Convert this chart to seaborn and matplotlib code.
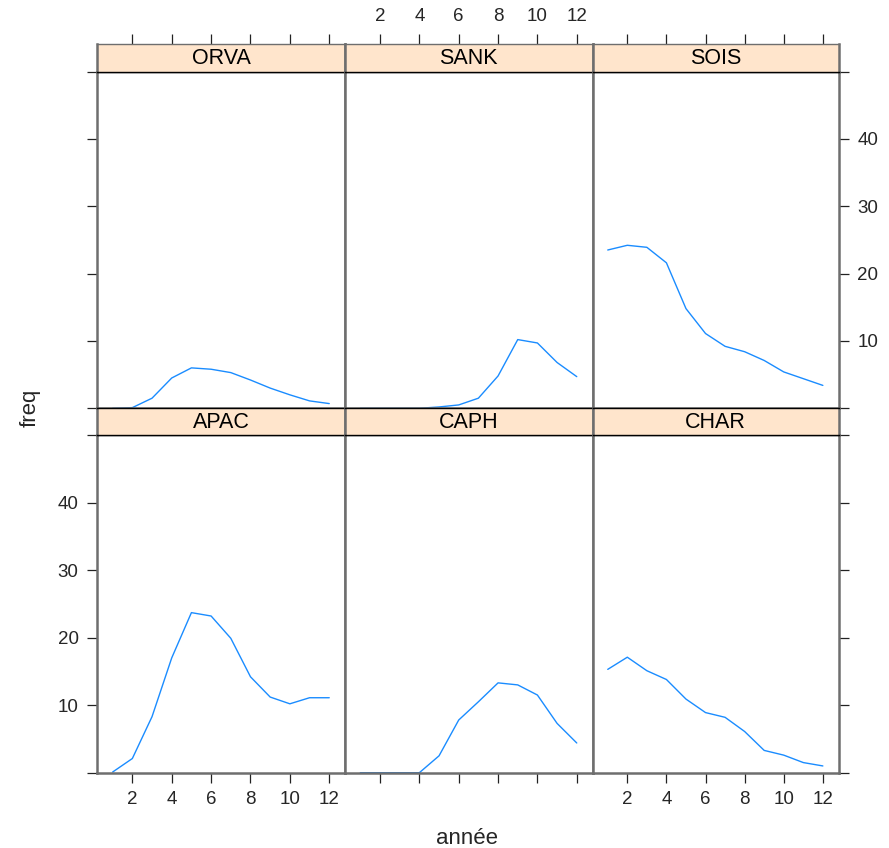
import numpy as np
import pandas as pd
import matplotlib
matplotlib.use("Agg")
import matplotlib.pyplot as plt
import seaborn as sns

sns.set_style("white")
plt.rcParams['font.family'] = ['Liberation Sans', 'DejaVu Sans']

annee = list(range(1, 13))
ORVA = [0, 0.1, 1.5, 4.5, 6.0, 5.8, 5.3, 4.2, 3.0, 2.0, 1.1, 0.7]
SANK = [0, 0, 0, 0, 0.2, 0.5, 1.5, 4.8, 10.2, 9.7, 6.8, 4.7]
SOIS = [23.5, 24.2, 23.9, 21.6, 14.8, 11.1, 9.2, 8.4, 7.1, 5.4, 4.4, 3.4]
APAC = [0.1, 2.1, 8.3, 17.0, 23.7, 23.2, 19.9, 14.2, 11.2, 10.2, 11.1, 11.1]
CAPH = [0, 0, 0, 0, 2.5, 7.8, 10.5, 13.3, 13.0, 11.5, 7.3, 4.4]
CHAR = [15.3, 17.1, 15.1, 13.8, 10.9, 8.9, 8.2, 6.1, 3.3, 2.6, 1.5, 1.0]

series = {"ORVA": ORVA, "SANK": SANK, "SOIS": SOIS,
          "APAC": APAC, "CAPH": CAPH, "CHAR": CHAR}
layout = [["ORVA", "SANK", "SOIS"], ["APAC", "CAPH", "CHAR"]]

xticks = [2, 4, 6, 8, 10, 12]
yticks = [0, 10, 20, 30, 40, 50]
ylabels = ["", "10", "20", "30", "40", ""]

df = pd.DataFrame([(s, a, v) for s, vals in series.items() for a, v in zip(annee, vals)],
                  columns=["site", "annee", "freq"])

W, H = 889, 848
fig = plt.figure(figsize=(W / 100, H / 100), dpi=100)

def add(x0, y0, x1, y1):
    return fig.add_axes([x0 / W, 1 - y1 / H, (x1 - x0) / W, (y1 - y0) / H])

cols = [(97.3, 345.0), (345.0, 592.5), (592.5, 838.5)]
rows = [((43.5, 71.5), (71.5, 408.3)), ((408.3, 435.0), (435.0, 772.7))]
XLIM = (0.22, 12.8)
YLIM = (0, 50)
FS = 13.5
TL = 7.5
PAD = 6
GRAY = "#6e6e6e"

for r, ((sy0, sy1), (py0, py1)) in enumerate(rows):
    for c, (x0, x1) in enumerate(cols):
        name = layout[r][c]
        ax = add(x0, py0, x1, py1)
        sns.lineplot(data=df[df.site == name], x="annee", y="freq", ax=ax,
                     color="#1a8cff", linewidth=1.0, estimator=None)
        ax.set_xlim(*XLIM)
        ax.set_ylim(*YLIM)
        ax.set_xlabel("")
        ax.set_ylabel("")
        for sp in ax.spines.values():
            sp.set_color(GRAY)
            sp.set_linewidth(1.8)
        ax.spines["top"].set_color("black")
        ax.spines["top"].set_linewidth(1.0)
        ax.tick_params(direction="out", length=TL, width=0.9, color="#222222",
                       labelsize=FS, pad=PAD)
        if r == 1:
            ax.set_xticks(xticks)
            ax.set_xticklabels([str(t) for t in xticks] if c != 1 else [""] * len(xticks))
            ax.tick_params(axis="x", bottom=True, top=False)
        else:
            ax.set_xticks([])
        ax.set_yticks(yticks)
        if c == 0:
            ax.tick_params(axis="y", left=True, right=False, labelleft=(r == 1), labelright=False)
            ax.set_yticklabels(ylabels)
        elif c == 2:
            ax.tick_params(axis="y", left=False, right=True, labelleft=False, labelright=(r == 0))
            ax.set_yticklabels(ylabels)
        else:
            ax.tick_params(axis="y", left=False, right=False, labelleft=False)
        st = add(x0, sy0, x1, sy1)
        st.set_facecolor("#FFE5CC")
        st.set_xlim(*XLIM)
        st.set_ylim(0, 1)
        st.set_yticks([])
        for sp in st.spines.values():
            sp.set_color(GRAY)
            sp.set_linewidth(1.8)
        st.spines["bottom"].set_color("black")
        st.spines["bottom"].set_linewidth(1.0)
        st.spines["top"].set_linewidth(1.0)
        if r == 1:
            st.spines["top"].set_color("black")
        if r == 0:
            st.set_xticks(xticks)
            st.tick_params(axis="x", top=True, bottom=False, labelbottom=False,
                           labeltop=(c == 1), direction="out", length=TL, width=0.9,
                           color="#222222", labelsize=FS, pad=PAD)
            st.set_xticklabels([str(t) for t in xticks])
        else:
            st.set_xticks([])
        st.text(0.5, 0.47, name, transform=st.transAxes, ha="center", va="center",
                fontsize=15.5, color="black")

fig.text(30 / W, 1 - 408 / H, "freq", rotation=90, ha="center", va="center", fontsize=16)
fig.text(467 / W, 1 - 838 / H, "année", ha="center", va="center", fontsize=16)

fig.savefig("out.png", dpi=100, facecolor="white")
